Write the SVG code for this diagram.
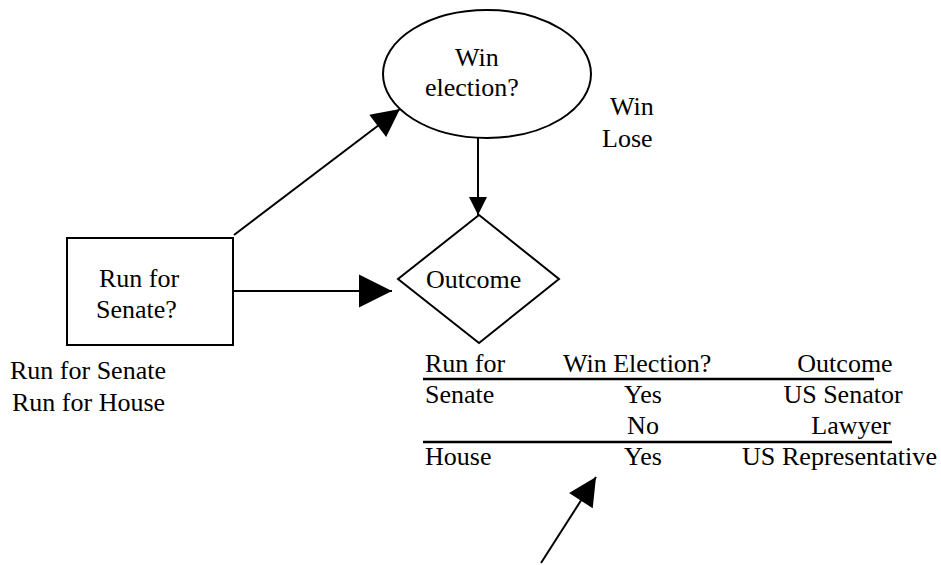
<svg xmlns="http://www.w3.org/2000/svg" width="941" height="565" viewBox="0 0 941 565" font-family="'Liberation Serif', 'Times New Roman', Times, 'DejaVu Serif', serif">
<style>
text{font-family:"Liberation Serif","Times New Roman",Times,"DejaVu Serif",serif;font-size:26px;fill:#000}
.shape{fill:#fff;stroke:#000;stroke-width:2}
.conn{stroke:#000;stroke-width:2;fill:none}
.rule{stroke:#000;stroke-width:2.5}
.mid{text-anchor:middle}
</style>
<defs>
<marker id="ahBig" viewBox="0 0 10 10" refX="10" refY="5" markerUnits="userSpaceOnUse" markerWidth="30" markerHeight="28" orient="auto"><path d="M0,0 L10,5 L0,10 z" fill="#000"/></marker>
<marker id="ahWide" viewBox="0 0 10 10" refX="10" refY="5" markerUnits="userSpaceOnUse" markerWidth="33" markerHeight="37" orient="auto"><path d="M0,0 L10,5 L0,10 z" fill="#000"/></marker>
<marker id="ahSmall" viewBox="0 0 10 10" refX="10" refY="5" markerUnits="userSpaceOnUse" markerWidth="18" markerHeight="21" orient="auto"><path d="M0,0 L10,5 L0,10 z" fill="#000"/></marker>
</defs>
<g id="connectors">
<line class="conn" x1="234" y1="235" x2="400" y2="109" marker-end="url(#ahBig)"/>
<line class="conn" x1="233" y1="291" x2="392" y2="291" marker-end="url(#ahWide)"/>
<line class="conn" x1="478" y1="138" x2="478" y2="215" marker-end="url(#ahSmall)"/>
<line class="conn" x1="541" y1="563" x2="596" y2="477" marker-end="url(#ahBig)"/>
</g>
<g id="win-election">
<ellipse class="shape" cx="487" cy="74" rx="104" ry="64"/>
<text x="455" y="66">Win</text>
<text x="425" y="96">election?</text>
</g>
<g id="win-lose-labels">
<text x="610" y="115">Win</text>
<text x="602" y="147">Lose</text>
</g>
<g id="run-for-senate">
<rect class="shape" x="67" y="238" width="166" height="107"/>
<text x="99" y="287">Run for</text>
<text x="96" y="318">Senate?</text>
</g>
<g id="run-labels">
<text x="10" y="379">Run for Senate</text>
<text x="12" y="411">Run for House</text>
</g>
<g id="outcome">
<polygon class="shape" points="479,215 559,279 479,343 398,279"/>
<text x="426" y="288">Outcome</text>
</g>
<g id="table">
<text x="425" y="372">Run for</text>
<text x="563" y="372">Win Election?</text>
<text class="mid" x="845" y="372">Outcome</text>
<line class="rule" x1="423" y1="379" x2="874" y2="379"/>
<text x="425" y="403">Senate</text>
<text class="mid" x="643" y="403">Yes</text>
<text class="mid" x="843" y="403">US Senator</text>
<text class="mid" x="643" y="434">No</text>
<text class="mid" x="851" y="434">Lawyer</text>
<line class="rule" x1="423" y1="442" x2="892" y2="442"/>
<text x="425" y="465">House</text>
<text class="mid" x="643" y="465">Yes</text>
<text x="742" y="465" textLength="195" lengthAdjust="spacingAndGlyphs">US Representative</text>
</g>
</svg>
